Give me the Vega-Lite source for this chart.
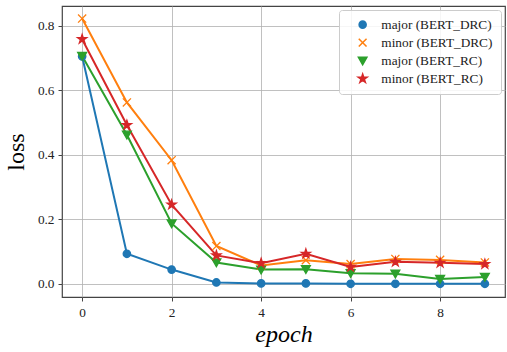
{
  "$schema": "https://vega.github.io/schema/vega-lite/v6.json",
  "width": 443,
  "height": 291,
  "autosize": {"type": "none"},
  "padding": {"left": 62, "top": 6, "right": 2, "bottom": 55},
  "config": {
    "font": "Liberation Serif",
    "view": {"stroke": "#444", "strokeWidth": 1.2},
    "axis": {
      "labelFont": "Liberation Serif",
      "labelFontSize": 13.3,
      "labelColor": "#222",
      "titleFont": "Liberation Serif",
      "titleColor": "#000",
      "titleFontWeight": "normal",
      "tickColor": "#444",
      "tickSize": 4,
      "labelPadding": 4,
      "domain": false,
      "gridColor": "#b0b0b0",
      "gridWidth": 1,
      "gridOpacity": 0.8
    },
    "legend": {
      "labelFont": "Liberation Serif",
      "labelFontSize": 13.3,
      "labelColor": "#222",
      "title": null,
      "orient": "top-right",
      "offset": 4,
      "padding": 8,
      "fillColor": "rgba(255,255,255,0.85)",
      "strokeColor": "#cccccc",
      "cornerRadius": 3,
      "symbolSize": 50,
      "symbolOffset": 9,
      "labelOffset": 12,
      "rowPadding": 3
    }
  },
  "data": {
    "values": [
      {"epoch": 0, "series": "major (BERT_DRC)", "loss": 0.705},
      {"epoch": 1, "series": "major (BERT_DRC)", "loss": 0.093},
      {"epoch": 2, "series": "major (BERT_DRC)", "loss": 0.044},
      {"epoch": 3, "series": "major (BERT_DRC)", "loss": 0.004},
      {"epoch": 4, "series": "major (BERT_DRC)", "loss": 0.001},
      {"epoch": 5, "series": "major (BERT_DRC)", "loss": 0.001},
      {"epoch": 6, "series": "major (BERT_DRC)", "loss": 0.0},
      {"epoch": 7, "series": "major (BERT_DRC)", "loss": 0.0},
      {"epoch": 8, "series": "major (BERT_DRC)", "loss": 0.0},
      {"epoch": 9, "series": "major (BERT_DRC)", "loss": 0.0},
      {"epoch": 0, "series": "minor (BERT_DRC)", "loss": 0.822},
      {"epoch": 1, "series": "minor (BERT_DRC)", "loss": 0.562},
      {"epoch": 2, "series": "minor (BERT_DRC)", "loss": 0.383},
      {"epoch": 3, "series": "minor (BERT_DRC)", "loss": 0.117},
      {"epoch": 4, "series": "minor (BERT_DRC)", "loss": 0.057},
      {"epoch": 5, "series": "minor (BERT_DRC)", "loss": 0.073},
      {"epoch": 6, "series": "minor (BERT_DRC)", "loss": 0.061},
      {"epoch": 7, "series": "minor (BERT_DRC)", "loss": 0.077},
      {"epoch": 8, "series": "minor (BERT_DRC)", "loss": 0.074},
      {"epoch": 9, "series": "minor (BERT_DRC)", "loss": 0.066},
      {"epoch": 0, "series": "major (BERT_RC)", "loss": 0.706},
      {"epoch": 1, "series": "major (BERT_RC)", "loss": 0.462},
      {"epoch": 2, "series": "major (BERT_RC)", "loss": 0.187},
      {"epoch": 3, "series": "major (BERT_RC)", "loss": 0.066},
      {"epoch": 4, "series": "major (BERT_RC)", "loss": 0.044},
      {"epoch": 5, "series": "major (BERT_RC)", "loss": 0.045},
      {"epoch": 6, "series": "major (BERT_RC)", "loss": 0.033},
      {"epoch": 7, "series": "major (BERT_RC)", "loss": 0.031},
      {"epoch": 8, "series": "major (BERT_RC)", "loss": 0.015},
      {"epoch": 9, "series": "major (BERT_RC)", "loss": 0.021},
      {"epoch": 0, "series": "minor (BERT_RC)", "loss": 0.758},
      {"epoch": 1, "series": "minor (BERT_RC)", "loss": 0.492},
      {"epoch": 2, "series": "minor (BERT_RC)", "loss": 0.245},
      {"epoch": 3, "series": "minor (BERT_RC)", "loss": 0.088},
      {"epoch": 4, "series": "minor (BERT_RC)", "loss": 0.064},
      {"epoch": 5, "series": "minor (BERT_RC)", "loss": 0.093},
      {"epoch": 6, "series": "minor (BERT_RC)", "loss": 0.052},
      {"epoch": 7, "series": "minor (BERT_RC)", "loss": 0.068},
      {"epoch": 8, "series": "minor (BERT_RC)", "loss": 0.065},
      {"epoch": 9, "series": "minor (BERT_RC)", "loss": 0.061}
    ]
  },
  "encoding": {
    "x": {
      "field": "epoch",
      "type": "quantitative",
      "scale": {"domain": [-0.45, 9.45], "nice": false, "zero": false},
      "axis": {
        "values": [0, 2, 4, 6, 8],
        "format": "d",
        "labelFont": "Liberation Serif",
        "title": "epoch",
        "titleFontSize": 24,
        "titleFontStyle": "italic",
        "titlePadding": 4
      }
    },
    "y": {
      "field": "loss",
      "type": "quantitative",
      "scale": {"domain": [-0.041, 0.861], "nice": false, "zero": false},
      "axis": {
        "values": [0, 0.2, 0.4, 0.6, 0.8],
        "format": ".1f",
        "labelFont": "Liberation Serif",
        "title": "loss",
        "titleFontSize": 24,
        "titlePadding": 9
      }
    },
    "color": {
      "field": "series",
      "type": "nominal",
      "scale": {
        "domain": ["major (BERT_DRC)", "minor (BERT_DRC)", "major (BERT_RC)", "minor (BERT_RC)"],
        "range": ["#1f77b4", "#ff7f0e", "#2ca02c", "#d62728"]
      }
    }
  },
  "layer": [
    {
      "mark": {"type": "line", "strokeWidth": 2}
    },
    {
      "mark": {"type": "point", "filled": true, "opacity": 1, "size": 55, "strokeWidth": 1.3},
      "encoding": {
        "stroke": {
          "field": "series",
          "type": "nominal",
          "scale": {
            "domain": ["major (BERT_DRC)", "minor (BERT_DRC)", "major (BERT_RC)", "minor (BERT_RC)"],
            "range": ["#1f77b4", "#ff7f0e", "#2ca02c", "#d62728"]
          }
        },
        "shape": {
          "field": "series",
          "type": "nominal",
          "scale": {
            "domain": ["major (BERT_DRC)", "minor (BERT_DRC)", "major (BERT_RC)", "minor (BERT_RC)"],
            "range": [
              "M1,0A1,1,0,1,1,-1,0A1,1,0,1,1,1,0Z",
              "M-1.1,-1.1L1.1,1.1M-1.1,1.1L1.1,-1.1",
              "M-1.2,-0.95L1.2,-0.95L0,1.15Z",
              "M0,-1.3L0.293,-0.402L1.236,-0.402L0.472,0.153L0.764,1.052L0,0.497L-0.764,1.052L-0.472,0.153L-1.236,-0.402L-0.293,-0.402Z"
            ]
          }
        }
      }
    }
  ]
}
